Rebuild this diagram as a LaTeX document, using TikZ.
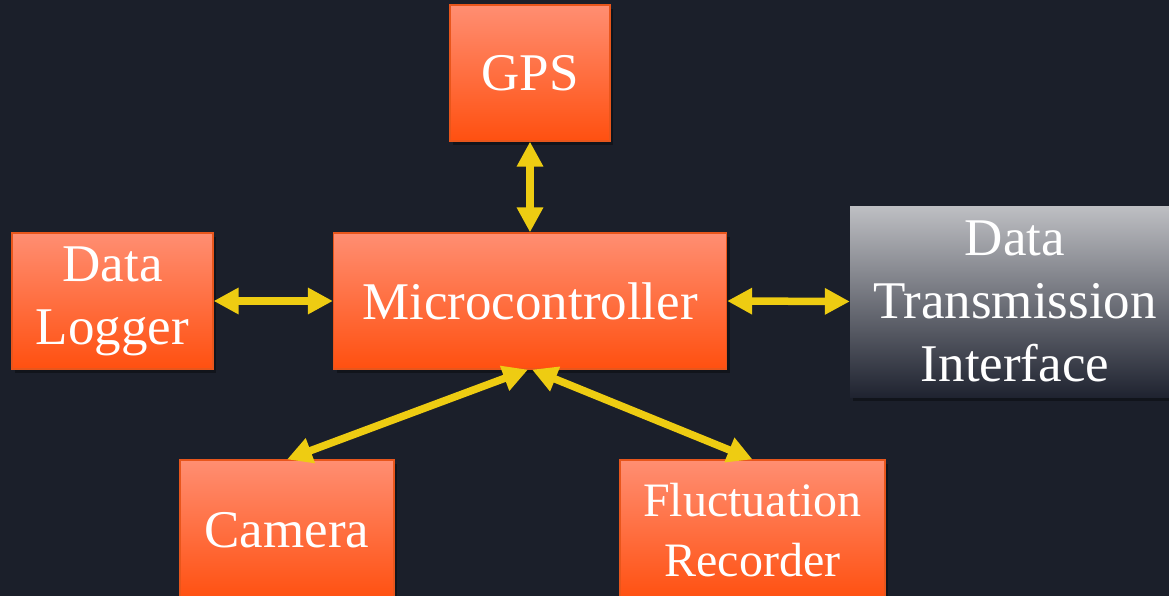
\documentclass[tikz,border=0pt]{standalone}
\usepackage{fontspec}
\setmainfont{Liberation Serif}
\usetikzlibrary{arrows.meta,shadows,calc}
\definecolor{bgcol}{HTML}{1B1F2A}
\definecolor{orangetop}{HTML}{FF8E72}
\definecolor{orangebot}{HTML}{FF5010}
\definecolor{orangeedge}{HTML}{E8561C}
\definecolor{graytop}{HTML}{BEBFC3}
\definecolor{graybot}{HTML}{1F2330}
\definecolor{arrowcol}{HTML}{EECC12}
\tikzset{
  myshadow/.style={drop shadow={fill=black, opacity=0.35, shadow xshift=3pt, shadow yshift=-4pt}},
  obox/.style={rectangle, top color=orangetop, bottom color=orangebot, draw=orangeedge, line width=1.2pt,
    text=white, align=center, inner sep=0pt, font=\fontsize{53}{63}\selectfont, myshadow},
  gbox/.style={rectangle, top color=graytop, bottom color=graybot, draw=none,
    text=white, align=center, inner sep=0pt, font=\fontsize{53}{63}\selectfont, myshadow},
  link/.style={draw=arrowcol, line width=7.5pt, {Triangle[length=25pt,width=25pt]}-{Triangle[length=25pt,width=25pt]}}
}
\begin{document}
\begin{tikzpicture}[x=1pt,y=-1pt]
\fill[bgcol] (0,0) rectangle (1169,596);
\useasboundingbox (0,0) rectangle (1169,596);
\clip (0,0) rectangle (1169,596);
\node[obox, minimum width=393pt, minimum height=136pt] (micro) at (530,301) {Microcontroller};
\node[obox, minimum width=160pt, minimum height=136pt] (gps) at (530,73) {GPS};
\node[obox, minimum width=201pt, minimum height=136pt] (logger) at (112.5,301) {Data\\Logger};
\node[gbox, minimum width=330pt, minimum height=191pt] (dti) at (1015,301.5) {Data\\Transmission\\Interface};
\node[obox, minimum width=214pt, minimum height=140pt] (camera) at (287,530) {Camera};
\node[obox, minimum width=265pt, minimum height=140pt, font=\fontsize{48}{60}\selectfont] (fluct) at (752.5,530) {Fluctuation\\Recorder};
\draw[link] (gps.south) -- (micro.north);
\draw[link] (logger.east) -- (micro.west);
\draw[link] (micro.east) -- (dti.west);
\draw[link] ($(micro.south)+(-2,0)$) -- (camera.north);
\draw[link] ($(micro.south)+(2,0)$) -- (fluct.north);
\end{tikzpicture}
\end{document}
